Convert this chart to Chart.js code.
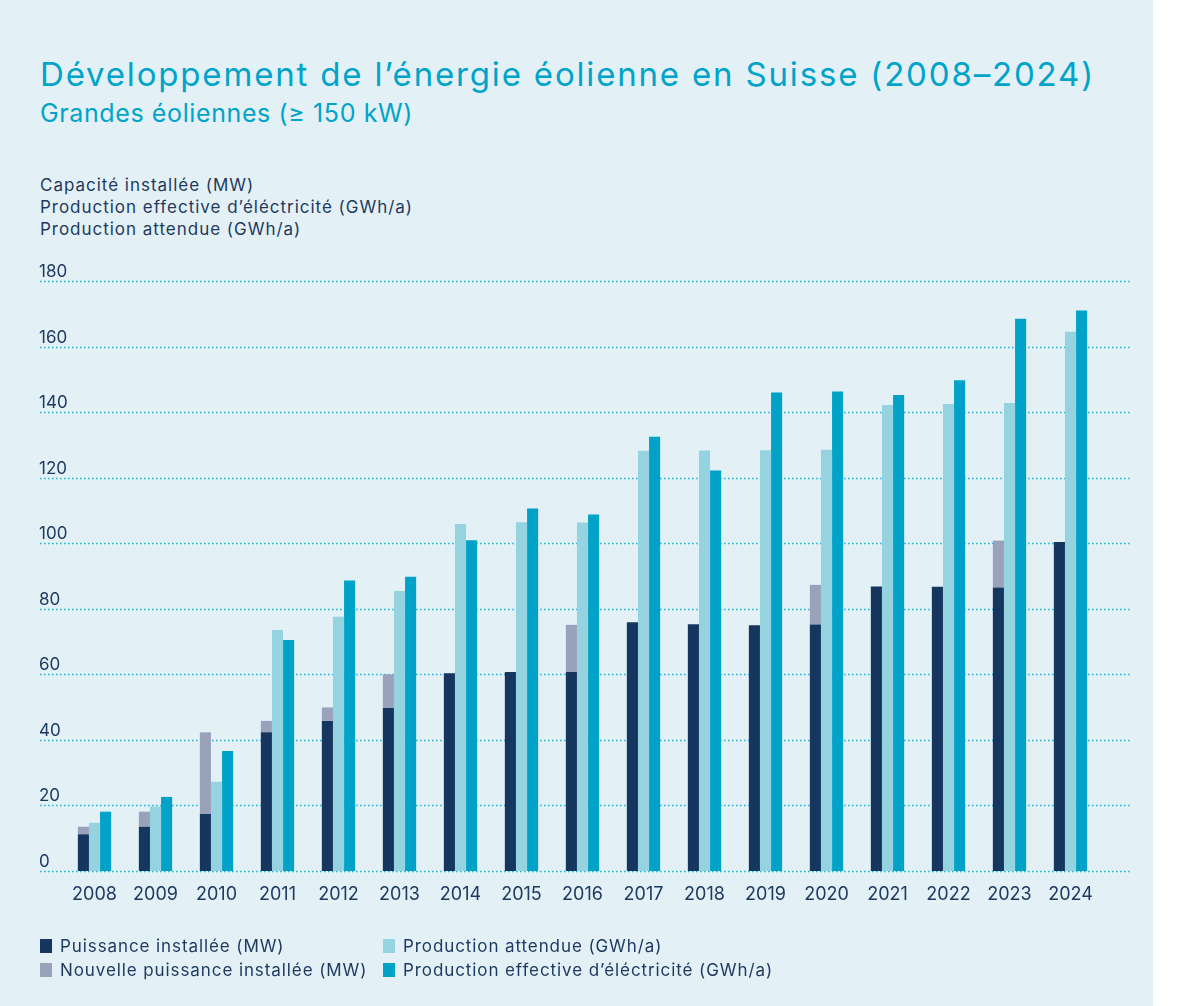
<!DOCTYPE html>
<html lang="fr">
<head>
<meta charset="utf-8">
<title>Développement de l’énergie éolienne en Suisse</title>
<script src="https://cdn.jsdelivr.net/npm/chart.js@4.4.1/dist/chart.umd.min.js"></script>
<style>
  body { margin: 0; background: #fff; font-family: Inter, "Open Sans", sans-serif; }
  .panel { position: absolute; left: 0; top: 0; width: 1153px; height: 1006px; background: #e3f1f7; }
  .txt { position: absolute; left: 40px; white-space: nowrap; }
  .title { top: 58px; font-size: 33px; line-height: 33px; color: #00a3c9; font-weight: 400; }
  .subtitle { top: 101px; font-size: 25px; line-height: 25px; color: #00a3c9; font-weight: 400; }
  .axis-title { font-size: 17px; line-height: 17px; color: #1f3a60; }
  #chart-wrap { position: absolute; left: 0; top: 0; width: 1200px; height: 1006px; }
  .leg-item { position: absolute; display: flex; align-items: center; height: 22px; font-size: 17px; color: #1f3a60; white-space: nowrap; }
  .leg-box { width: 12px; height: 14px; margin-right: 8px; flex: none; }
</style>
</head>
<body>
<div class="panel"></div>
<div class="txt title" id="title">Développement de l’énergie éolienne en Suisse (2008–2024)</div>
<div class="txt subtitle" id="subtitle">Grandes éoliennes (≥ 150 kW)</div>
<div class="txt axis-title" style="top:177px">Capacité installée (MW)</div>
<div class="txt axis-title" id="axisLong" style="top:199px">Production effective d’éléctricité (GWh/a)</div>
<div class="txt axis-title" style="top:221px">Production attendue (GWh/a)</div>
<div id="chart-wrap"><canvas id="windChart" width="1200" height="1006"></canvas></div>
<div id="legend"></div>

<script>
const years = ["2008", "2009", "2010", "2011", "2012", "2013", "2014", "2015", "2016",
  "2017", "2018", "2019", "2020", "2021", "2022", "2023", "2024"];
const installed = [11.2, 13.5, 17.4, 42.3, 45.8, 49.7, 60.3, 60.7, 60.7, 75.9, 75.3, 75.0, 75.2, 86.8, 86.7, 86.5, 100.4];
const newInstalled = [2.3, 4.6, 24.9, 3.5, 4.1, 10.3, 0, 0, 14.4, 0, 0, 0, 12.1, 0, 0, 14.3, 0];
const expected = [14.7, 19.7, 27.2, 73.5, 77.6, 85.4, 105.9, 106.4, 106.3, 128.2, 128.3, 128.4, 128.5, 142.2, 142.5, 142.8, 164.5];
const effective = [18.1, 22.6, 36.6, 70.5, 88.6, 89.8, 100.9, 110.6, 108.8, 132.5, 122.2, 146.0, 146.3, 145.2, 149.7, 168.5, 171.0];
const yTicks = [0, 20, 40, 60, 80, 100, 120, 140, 160, 180];

const NAVY = "#1f3a60";

// the original font is wider than what we have, so stretch with letter-spacing
function spacingFor(el, target) {
  const w = el.getBoundingClientRect().width;
  return (target - w) / el.textContent.length;
}
document.getElementById("title").style.letterSpacing = spacingFor(document.getElementById("title"), 1055) + "px";
document.getElementById("subtitle").style.letterSpacing = spacingFor(document.getElementById("subtitle"), 373) + "px";
const axisLs = spacingFor(document.getElementById("axisLong"), 373);
document.querySelectorAll(".axis-title").forEach((el) => (el.style.letterSpacing = axisLs + "px"));

// dotted grid lines + tick labels, wider than the plot area
const gridPlugin = {
  id: "dottedGrid",
  beforeDatasetsDraw(chart) {
    const { ctx, scales } = chart;
    const y = scales.y;
    ctx.save();
    ctx.strokeStyle = "#2ab3d7";
    ctx.lineWidth = 1.6;
    ctx.setLineDash([1.6, 2.4]);
    ctx.font = "17px Inter, 'Open Sans', sans-serif";
    ctx.fillStyle = NAVY;
    ctx.textBaseline = "alphabetic";
    yTicks.forEach((t) => {
      const py = Math.round(y.getPixelForValue(t)) + 0.5;
      ctx.beginPath();
      ctx.moveTo(40, py);
      ctx.lineTo(1130, py);
      ctx.stroke();
      ctx.fillText(String(t), 39, py - 5);
    });
    ctx.restore();
  }
};

const chart = new Chart(document.getElementById("windChart"), {
  type: "bar",
  data: {
    labels: years,
    datasets: [
      { label: "Puissance installée (MW)", data: installed, backgroundColor: "#15375f", stack: "mw" },
      { label: "Nouvelle puissance installée (MW)", data: newInstalled, backgroundColor: "#99a1bb", stack: "mw" },
      { label: "Production attendue (GWh/a)", data: expected, backgroundColor: "#95d3e0", stack: "exp" },
      { label: "Production effective d’éléctricité (GWh/a)", data: effective, backgroundColor: "#00a2c7", stack: "eff" }
    ]
  },
  options: {
    responsive: false,
    animation: false,
    devicePixelRatio: 1,
    layout: { padding: { left: 64, right: 99, top: 281, bottom: 95 } },
    datasets: { bar: { categoryPercentage: 0.546, barPercentage: 1, borderWidth: 0 } },
    plugins: { legend: { display: false }, tooltip: { enabled: false } },
    scales: {
      x: {
        stacked: true,
        grid: { display: false, drawTicks: false },
        border: { display: false },
        ticks: { color: NAVY, font: { family: "Inter", size: 18 }, padding: 13, maxRotation: 0, autoSkip: false },
        afterFit: (s) => { s.height = 40; }
      },
      y: { stacked: true, display: false, min: 0, max: 180 }
    }
  },
  plugins: [gridPlugin]
});

// legend in two columns, from the datasets
const legend = document.getElementById("legend");
const slots = [[0, 40, 946], [2, 383, 946], [1, 40, 970], [3, 383, 970]];
const labelSpans = [];
slots.forEach(([i, left, cy]) => {
  const ds = chart.data.datasets[i];
  const item = document.createElement("div");
  item.className = "leg-item";
  item.style.left = left + "px";
  item.style.top = (cy - 11) + "px";
  const box = document.createElement("span");
  box.className = "leg-box";
  box.style.background = ds.backgroundColor;
  const text = document.createElement("span");
  text.textContent = ds.label;
  item.appendChild(box);
  item.appendChild(text);
  legend.appendChild(item);
  labelSpans[i] = text;
});
const legLs = spacingFor(labelSpans[3], 370);
labelSpans.forEach((s) => (s.style.letterSpacing = legLs + "px"));
</script>
</body>
</html>
